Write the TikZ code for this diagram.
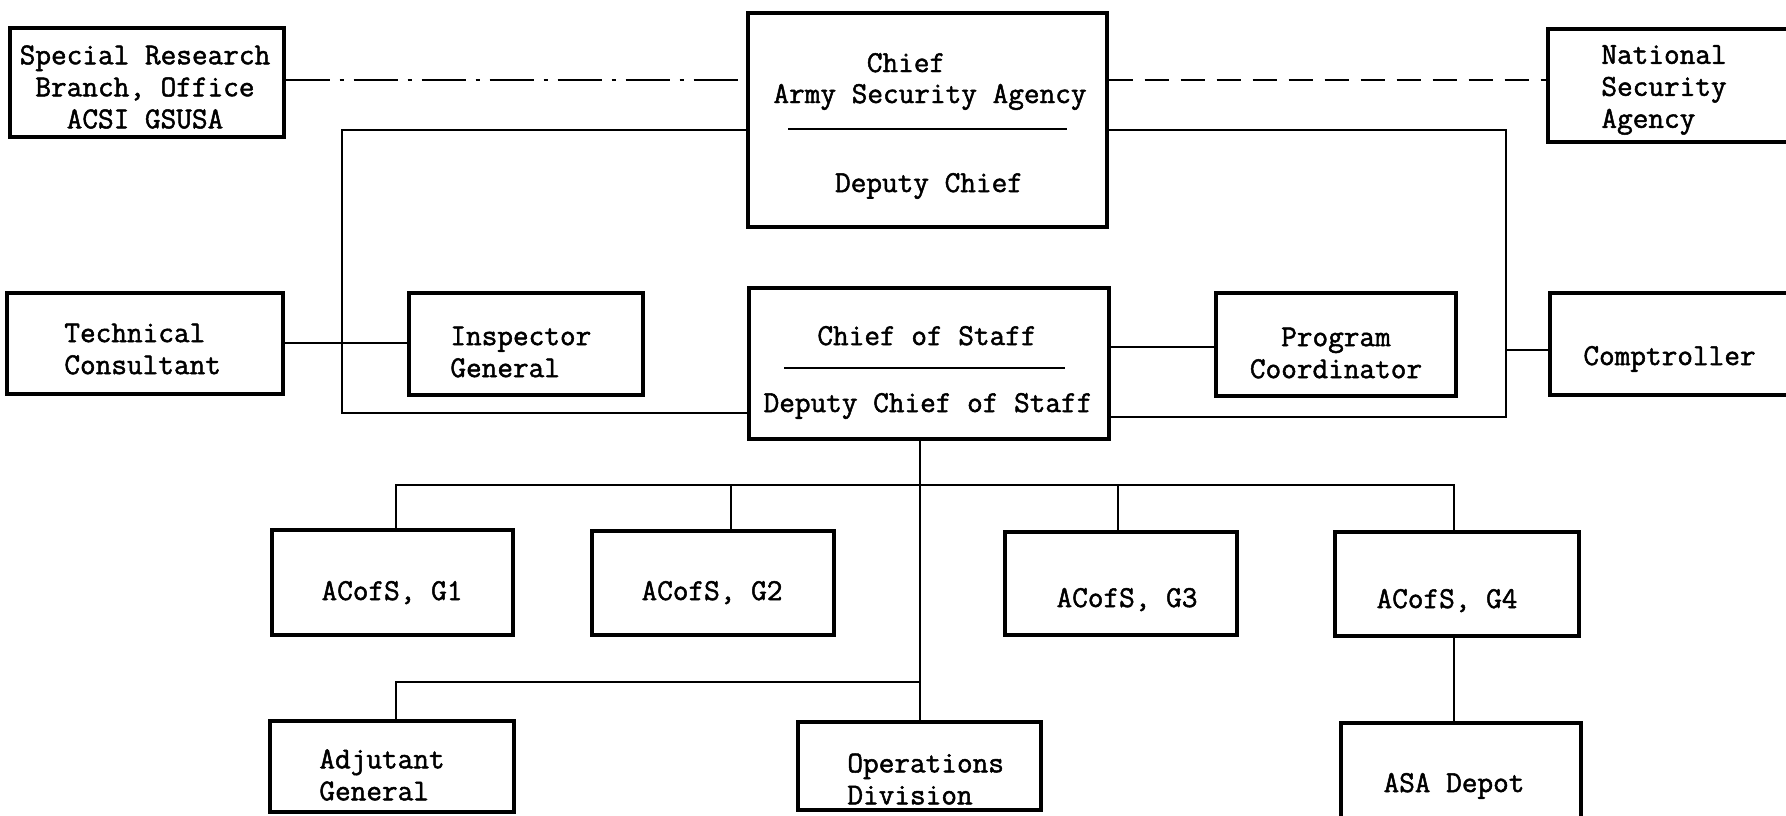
\documentclass[tikz,border=0pt]{standalone}
\usepackage{fontspec}
\setmonofont{Latin Modern Mono}[FakeBold=1.6]
\usetikzlibrary{fit}
\begin{document}
\begin{tikzpicture}[x=0.5pt,y=-0.5pt,
  box/.style={draw, line width=1.7pt, inner sep=0pt},
  txt/.style={font=\ttfamily\fontsize{15.2}{16}\selectfont, inner sep=0pt, align=center},
  ltxt/.style={txt, align=left, anchor=west},
  btxt/.style={txt, anchor=base},
  conn/.style={line width=1.4pt},
  dashdotline/.style={conn, dash pattern=on 22pt off 5pt on 2pt off 5pt},
  dashline/.style={conn, dash pattern=on 12pt off 6pt},
]
\useasboundingbox (0,0) rectangle (1786,815);
% boxes
\node[box, fit={(10,28)(284,137)}] (sr) {};
\node[box, fit={(748,13)(1107,227)}] (asa) {};
\node[box, fit={(1548,29)(1810,142)}] (nsa) {};
\node[box, fit={(7,293)(283,394)}] (tc) {};
\node[box, fit={(409,293)(643,395)}] (ig) {};
\node[box, fit={(749,288)(1109,439)}] (cos) {};
\node[box, fit={(1216,293)(1456,396)}] (pc) {};
\node[box, fit={(1550,293)(1810,395)}] (comp) {};
\node[box, fit={(272,530)(513,635)}] (g1) {};
\node[box, fit={(592,531)(834,635)}] (g2) {};
\node[box, fit={(1005,532)(1237,635)}] (g3) {};
\node[box, fit={(1335,532)(1579,636)}] (g4) {};
\node[box, fit={(270,721)(514,812)}] (ag) {};
\node[box, fit={(798,722)(1041,810)}] (ops) {};
\node[box, fit={(1341,723)(1581,850)}] (depot) {};
% separators inside boxes
\draw[conn] (788,129) -- (1067,129);
\draw[conn] (784,368) -- (1065,368);
% texts
\node[txt] (srt) at (145,87) {Special Research\\Branch, Office\\ACSI GSUSA};
\node[btxt] (asa1) at (906,72) {Chief};
\node[btxt] (asa2) at (930,103) {Army Security Agency};
\node[btxt] (asa3) at (929,192) {Deputy Chief};
\node[ltxt] (nsat) at (1601,90) {National\\Security\\Agency};
\node[ltxt] (tct) at (64,349) {Technical\\Consultant};
\node[ltxt] (igt) at (450,352) {Inspector\\General};
\node[btxt] (cos1) at (927,345) {Chief of Staff};
\node[btxt] (cos2) at (928,412) {Deputy Chief of Staff};
\node[txt] (pct) at (1336,353) {Program\\Coordinator};
\node[btxt, anchor=base west] (compt) at (1583,365) {Comptroller};
\node[btxt] (g1t) at (392,600) {ACofS, G1};
\node[btxt] (g2t) at (712,600) {ACofS, G2};
\node[btxt] (g3t) at (1127,607) {ACofS, G3};
\node[btxt] (g4t) at (1447,608) {ACofS, G4};
\node[ltxt] (agt) at (319,775) {Adjutant\\General};
\node[ltxt] (opst) at (847,779) {Operations\\Division};
\node[btxt] (dept) at (1454,792) {ASA Depot};
% helper coordinates
\coordinate (ydash) at (0,80);
\coordinate (ytop) at (0,130);
\coordinate (ybl) at (0,413);
\coordinate (ybr) at (0,417);
\coordinate (ytc) at (0,343);
\coordinate (ypc) at (0,347);
\coordinate (ycomp) at (0,350);
\coordinate (ybus) at (0,485);
\coordinate (ybus2) at (0,682);
\coordinate (xl) at (342,0);
\coordinate (xr) at (1506,0);
\coordinate (xmid) at (920,0);
\coordinate (xg1) at (396,0);
\coordinate (xg2) at (731,0);
\coordinate (xg3) at (1118,0);
\coordinate (xg4) at (1454,0);
\coordinate (rjoin) at (xr |- ycomp);
% connectors
\draw[dashdotline] (sr.east |- ydash) -- (asa.west |- ydash);
\draw[dashline] (asa.east |- ydash) -- (nsa.west |- ydash);
\draw[conn] (asa.west |- ytop) -| (xl |- ybl) -- (cos.west |- ybl);
\draw[conn] (asa.east |- ytop) -| (xr |- ybr) -- (cos.east |- ybr);
\draw[conn] (tc.east |- ytc) -- (ig.west |- ytc);
\draw[conn] (cos.east |- ypc) -- (pc.west |- ypc);
\draw[conn] (rjoin) -- (comp.west |- ycomp);
\draw[conn] (cos.south -| xmid) -- (ops.north -| xmid);
\draw[conn] (g1.north -| xg1) -- (xg1 |- ybus) -- (xg4 |- ybus) -- (g4.north -| xg4);
\draw[conn] (g2.north -| xg2) -- (xg2 |- ybus);
\draw[conn] (g3.north -| xg3) -- (xg3 |- ybus);
\draw[conn] (ag.north -| xg1) -- (xg1 |- ybus2) -- (xmid |- ybus2);
\draw[conn] (g4.south -| xg4) -- (depot.north -| xg4);
\end{tikzpicture}
\end{document}
